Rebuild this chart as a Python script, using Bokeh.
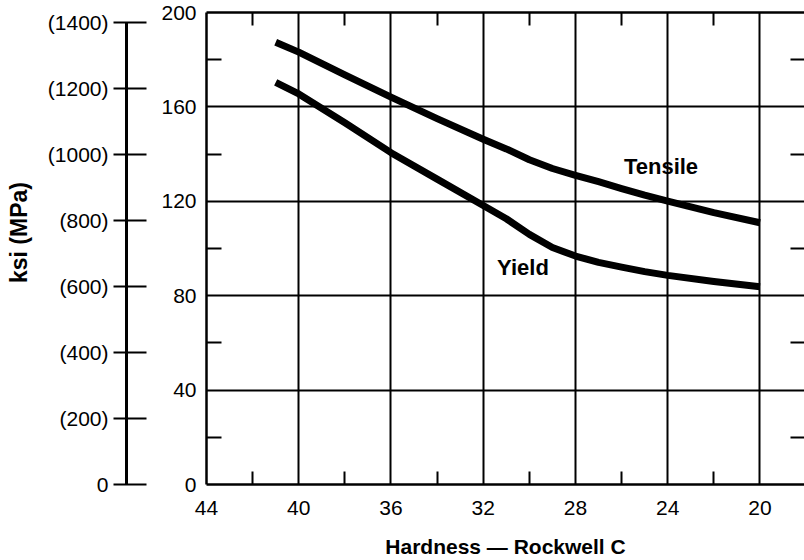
from bokeh.plotting import figure
from bokeh.models import LinearAxis, Range1d, FixedTicker, Label
from bokeh.embed import file_html
from bokeh.resources import INLINE

# ---- data ----
hardness = [41, 40, 38, 36, 34, 32, 31, 30, 29, 28, 27, 26, 25, 24, 22, 20]
tensile = [187.4, 183.2, 173.6, 164.1, 155.0, 146.3, 142.2, 137.6, 133.9, 131.0,
           128.3, 125.4, 122.6, 120.1, 115.2, 110.9]
yield_strength = [170.4, 165.5, 153.3, 140.6, 129.4, 118.2, 112.6, 106.0, 100.4, 96.8,
                  94.1, 92.1, 90.2, 88.6, 86.0, 83.8]

x_major = [44, 40, 36, 32, 28, 24, 20]
x_minor = [42, 38, 34, 30, 26, 22]
y_major = [0, 40, 80, 120, 160, 200]
y_minor = [20, 60, 100, 140, 180]
mpa_ticks = [0, 200, 400, 600, 800, 1000, 1200, 1400]
mpa_labels = ["0", "(200)", "(400)", "(600)", "(800)", "(1000)", "(1200)", "(1400)"]

FONT = "Liberation Sans"
FS = "21px"

p = figure(width=804, height=560, x_range=Range1d(44, 18.07), y_range=Range1d(0, 200),
           output_backend="svg", toolbar_location=None,
           min_border_left=206, min_border_top=12, min_border_right=0, min_border_bottom=75)
p.outline_line_color = None
p.background_fill_color = "white"
p.border_fill_color = "white"

# grid
p.xgrid.ticker = FixedTicker(ticks=x_major)
p.ygrid.ticker = FixedTicker(ticks=y_major)
for g in (p.xgrid, p.ygrid):
    g.grid_line_color = "black"
    g.grid_line_width = 2
    g.grid_line_alpha = 1.0

# bottom axis
xa = p.xaxis[0]
xa.ticker = FixedTicker(ticks=x_major, minor_ticks=x_minor)
xa.axis_line_width = 2.5
xa.major_tick_in = 0
xa.major_tick_out = 0
xa.minor_tick_in = 13
xa.minor_tick_out = 0
xa.minor_tick_line_width = 2
xa.major_label_text_font = FONT
xa.major_label_text_font_size = FS
xa.major_label_text_color = "black"
xa.major_label_standoff = 16
xa.axis_label = "Hardness \u2014 Rockwell C"
xa.axis_label_text_font = FONT
xa.axis_label_text_font_size = FS
xa.axis_label_text_font_style = "bold"
xa.axis_label_text_color = "black"
xa.axis_label_standoff = 17

# left (ksi) axis
ya = p.yaxis[0]
ya.ticker = FixedTicker(ticks=y_major, minor_ticks=y_minor)
ya.axis_line_width = 2.5
ya.major_tick_in = 0
ya.major_tick_out = 0
ya.minor_tick_in = 15
ya.minor_tick_out = 0
ya.minor_tick_line_width = 2
ya.major_label_text_font = FONT
ya.major_label_text_font_size = FS
ya.major_label_text_color = "black"
ya.major_label_standoff = 10
ya.axis_label = " "
ya.axis_label_text_font_size = FS
ya.axis_label_standoff = 6

# MPa axis
p.extra_y_ranges = {"mpa": Range1d(0, 1429)}
ma = LinearAxis(y_range_name="mpa", ticker=FixedTicker(ticks=mpa_ticks, minor_ticks=[]),
                bounds=(0, 1400))
ma.major_label_overrides = {t: s for t, s in zip(mpa_ticks, mpa_labels)}
ma.axis_line_width = 3
ma.major_tick_in = 20
ma.major_tick_out = 13
ma.major_tick_line_width = 2
ma.minor_tick_in = 0
ma.minor_tick_out = 0
ma.major_label_text_font = FONT
ma.major_label_text_font_size = FS
ma.major_label_text_color = "black"
ma.major_label_standoff = 5
p.add_layout(ma, "left")

# outermost left axis carrying only the title "ksi (MPa)"
# (leading no-break spaces lift the centred title to where the reference has it)
la = LinearAxis(y_range_name="mpa", ticker=FixedTicker(ticks=[], minor_ticks=[]))
la.axis_line_color = None
la.major_tick_in = 0
la.major_tick_out = 0
la.minor_tick_in = 0
la.minor_tick_out = 0
la.major_label_standoff = 0
la.axis_label = "\u00a0" * 5 + "ksi (MPa)"
la.axis_label_text_font = FONT
la.axis_label_text_font_size = "23px"
la.axis_label_text_font_style = "bold"
la.axis_label_text_color = "black"
la.axis_label_standoff = 13
p.add_layout(la, "left")

# top frame axis with minor ticks only
ta = LinearAxis(ticker=FixedTicker(ticks=[], minor_ticks=x_minor))
ta.axis_line_width = 2.5
ta.major_tick_in = 0
ta.major_tick_out = 0
ta.minor_tick_in = 13
ta.minor_tick_out = 0
ta.minor_tick_line_width = 2
ta.major_label_standoff = 0
p.add_layout(ta, "above")

# right side minor ticks (frame edge lies outside the picture)
ra = LinearAxis(ticker=FixedTicker(ticks=[], minor_ticks=y_minor))
ra.axis_line_color = None
ra.major_tick_in = 0
ra.major_tick_out = 0
ra.minor_tick_in = 14
ra.minor_tick_out = 0
ra.minor_tick_line_width = 2
ra.major_label_standoff = 0
p.add_layout(ra, "right")

# curves
p.line(hardness, tensile, line_color="black", line_width=7, line_join="round")
p.line(hardness, yield_strength, line_color="black", line_width=7, line_join="round")

p.add_layout(Label(x=25.9, y=134.9, text="Tensile", text_font=FONT, text_font_size="22px",
                   text_font_style="bold", text_color="black", text_baseline="alphabetic"))
p.add_layout(Label(x=31.4, y=91.9, text="Yield", text_font=FONT, text_font_size="22px",
                   text_font_style="bold", text_color="black", text_baseline="alphabetic"))

open("out.html", "w").write(file_html(p, INLINE))
